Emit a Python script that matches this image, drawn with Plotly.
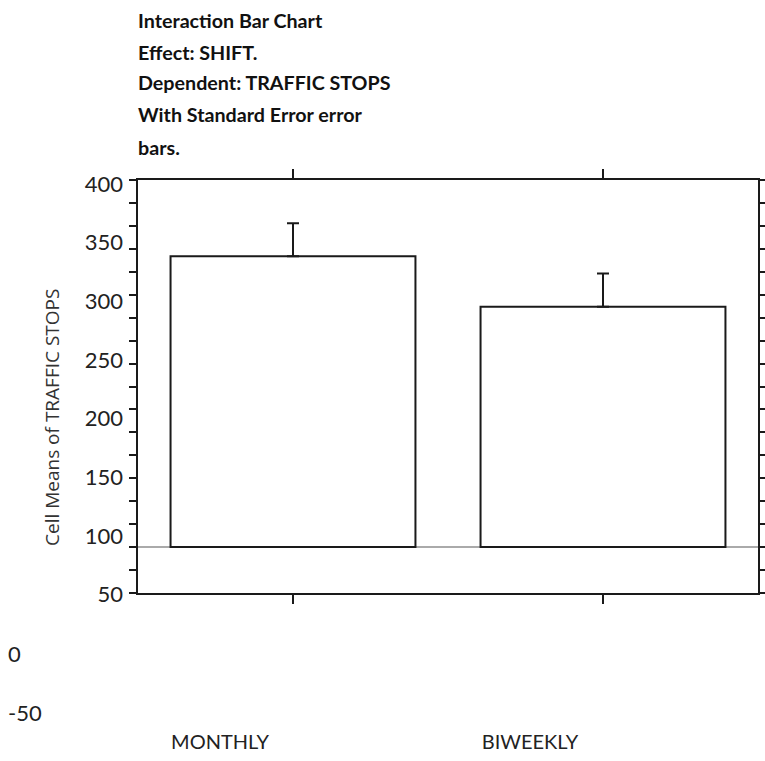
import plotly.graph_objects as go

categories = ["MONTHLY", "BIWEEKLY"]
means = [317, 262]
std_errors = [36, 36]
label_ticks = [400, 350, 300, 250, 200, 150, 100, 50]
extra_labels = [0, -50]
title_lines = ["Interaction Bar Chart", "Effect: SHIFT.", "Dependent: TRAFFIC STOPS",
               "With Standard Error error", "bars."]
y_title = "Cell Means of TRAFFIC STOPS"

W, H = 765, 761
def px_x(p):
    return p / W
def px_y(p):
    return 1 - p / H

fig = go.Figure()
fig.add_trace(go.Bar(
    x=categories, y=means, width=0.79,
    marker=dict(color="white", line=dict(color="#1a1a1a", width=2)),
    error_y=dict(type="data", symmetric=False, array=std_errors,
                 arrayminus=[0] * len(std_errors), color="#1a1a1a",
                 thickness=2, width=6),
    showlegend=False, hoverinfo="skip"))

# invisible trace carrying the label axes
fig.add_trace(go.Scatter(x=categories, y=means, xaxis="x2", yaxis="y2",
                         mode="markers", marker=dict(opacity=0),
                         showlegend=False, hoverinfo="skip"))

label_font = dict(family="Lato", size=20, color="#222222")

fig.update_layout(
    width=W, height=H,
    margin=dict(l=0, r=0, t=0, b=0, pad=0, autoexpand=False),
    paper_bgcolor="white", plot_bgcolor="rgba(0,0,0,0)",
    xaxis=dict(domain=[px_x(138), px_x(758)], type="category",
               categoryorder="array", categoryarray=categories,
               range=[-0.5, 1.5], showticklabels=False, ticks="outside",
               ticklen=9, tickwidth=2, tickcolor="#1a1a1a",
               showline=True, linecolor="#1a1a1a", linewidth=2,
               mirror="ticks", showgrid=False, zeroline=False,
               automargin=False, fixedrange=True),
    yaxis=dict(domain=[px_y(593), px_y(180)], range=[-50, 400],
               tick0=0, dtick=25, showticklabels=False, ticks="outside",
               ticklen=7, tickwidth=2, tickcolor="#1a1a1a",
               showline=True, linecolor="#1a1a1a", linewidth=2,
               mirror="ticks", showgrid=False, zeroline=True,
               zerolinecolor="#aaaaaa", zerolinewidth=2,
               automargin=False, fixedrange=True),
    xaxis2=dict(domain=[px_x(138), px_x(758)], type="category",
                categoryorder="array", categoryarray=categories,
                range=[-0.2645, 1.7355], anchor="free", position=px_y(728),
                ticks="", showline=False, showgrid=False, zeroline=False,
                tickfont=label_font, automargin=False, fixedrange=True),
    yaxis2=dict(domain=[px_y(712), px_y(184)], range=[-50, 400],
                anchor="free", position=px_x(123), side="left",
                tickvals=label_ticks, ticktext=[str(v) for v in label_ticks],
                ticks="", showline=False, showgrid=False, zeroline=False,
                tickfont=dict(family="Lato", size=22, color="#222222"),
                automargin=False, fixedrange=True),
)

title_y = [21, 52, 83, 115, 147]
for t, yy in zip(title_lines, title_y):
    fig.add_annotation(text=t, xref="paper", yref="paper", x=px_x(136), y=px_y(yy),
                       xanchor="left", yanchor="middle", showarrow=False,
                       font=dict(family="Lato", size=19.7, color="#111111", weight="bold"))

for v in extra_labels:
    fig.add_annotation(text=str(v), xref="paper", yref="y2", x=px_x(6), y=v,
                       xanchor="left", yanchor="middle", showarrow=False,
                       font=dict(family="Lato", size=22, color="#222222"))

fig.add_annotation(text=y_title, xref="paper", yref="paper", x=px_x(52), y=px_y(418),
                   xanchor="center", yanchor="middle", textangle=-90, showarrow=False,
                   font=dict(family="Open Sans", size=19, color="#333333"))

fig.write_html("out.html")
